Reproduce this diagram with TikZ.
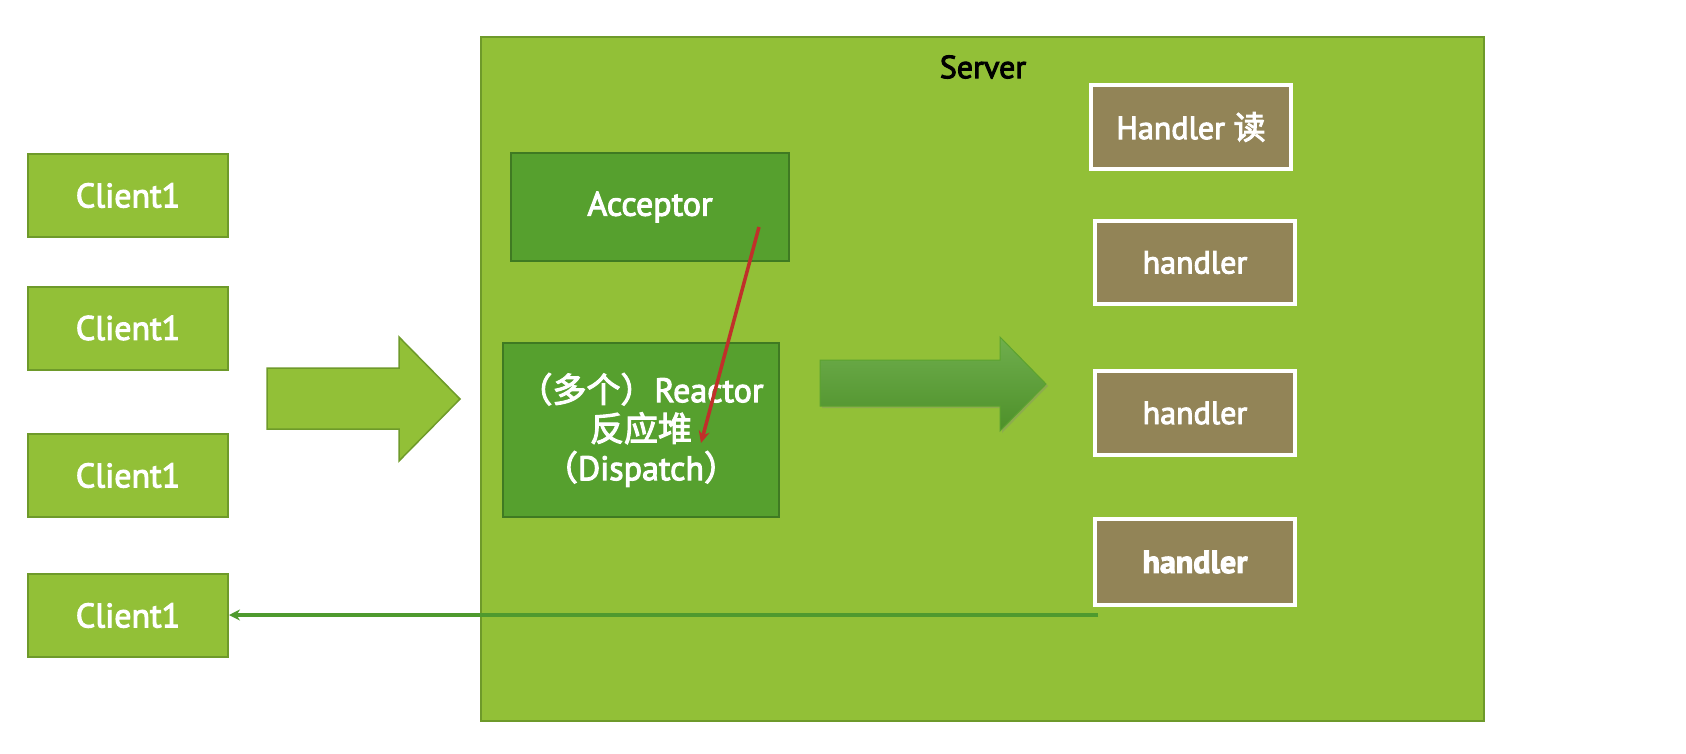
\documentclass[tikz,border=0pt]{standalone}
\usepackage{fontspec}
\setmainfont{PT Sans}
\newfontfamily\medfont{PT Sans}[FakeBold=3]
\newfontfamily\cjk{Noto Sans CJK SC}[FakeBold=3]
\usetikzlibrary{arrows.meta,shadows}
\definecolor{lgreen}{HTML}{92C037}
\definecolor{lgreenb}{HTML}{6E9A2A}
\definecolor{dgreen}{HTML}{56A02E}
\definecolor{dgreenb}{HTML}{3F7A22}
\definecolor{hbrown}{HTML}{928457}
\definecolor{linegreen}{HTML}{4E9A2E}
\definecolor{redline}{HTML}{C0302A}
\tikzset{
  client/.style={draw=lgreenb, fill=lgreen, line width=2pt, minimum width=200pt, minimum height=83pt, inner sep=0pt, text=white, font=\medfont\fontsize{34}{38}\selectfont},
  darkbox/.style={draw=dgreenb, fill=dgreen, line width=1.5pt, inner sep=0pt, text=white, font=\medfont\fontsize{34}{39}\selectfont},
  handlerbox/.style={draw=white, fill=hbrown, line width=3.5pt, minimum width=200pt, minimum height=84pt, inner sep=0pt, text=white, font=\medfont\fontsize{32}{36}\selectfont},
}
\begin{document}
\begin{tikzpicture}[x=1pt,y=-1pt]
\useasboundingbox (0,0) rectangle (1686,754);
% server
\node[draw=lgreenb, fill=lgreen, line width=2pt, minimum width=1003pt, minimum height=684pt, inner sep=0pt] (server) at (982.5,379) {};
\node[font=\medfont\fontsize{32}{36}\selectfont, text=black] (stitle) at (983,67) {Server};
% clients
\node[client] (c1) at (128,195.5) {Client1};
\node[client] (c2) at (128,328) {Client1};
\node[client] (c3) at (128,475.5) {Client1};
\node[client] (c4) at (128,615.5) {Client1};
% big arrow left
\draw[draw=lgreenb, fill=lgreen, line width=1.5pt] (267,368) -- (399,368) -- (399,337) -- (460,399) -- (399,461) -- (399,429) -- (267,429) -- cycle;
% acceptor and reactor
\node[darkbox, minimum width=278pt, minimum height=108pt] (acc) at (650,207) {Acceptor};
\node[darkbox, minimum width=276pt, minimum height=174pt, align=center] (reac) at (641,430) {{\cjk （多个）}Reactor\\{\cjk 反应堆}\\{\cjk （}Dispatch{\cjk ）}};
% handlers
\node[handlerbox] (h1) at (1191,127) {Handler {\cjk 读}};
\node[handlerbox, minimum height=83pt] (h2) at (1195,262.5) {handler};
\node[handlerbox] (h3) at (1195,413) {handler};
\node[handlerbox, minimum height=86pt, font=\medfont\bfseries\fontsize{32}{36}\selectfont] (h4) at (1195,562) {handler};
% green gradient arrow
\path[top color=dgreen!85!white, bottom color=dgreen!90!black, draw=dgreen!90!lgreen, line width=1pt, drop shadow={shadow xshift=2pt, shadow yshift=-2pt, opacity=0.3}] (820,360) -- (1000,360) -- (1000,337) -- (1046,384) -- (1000,431) -- (1000,406) -- (820,406) -- cycle;
% red arrow
\coordinate (r1) at (759,227);
\coordinate (r2) at (701,443);
\draw[redline, line width=3.5pt, -{Stealth[length=12pt,width=11pt]}] (r1) -- (r2);
% return line
\coordinate (ret) at (1098,615);
\draw[linegreen, line width=4pt, -{Stealth[length=11pt,width=11pt]}] (ret) -- (ret -| c4.east);
\end{tikzpicture}
\end{document}
